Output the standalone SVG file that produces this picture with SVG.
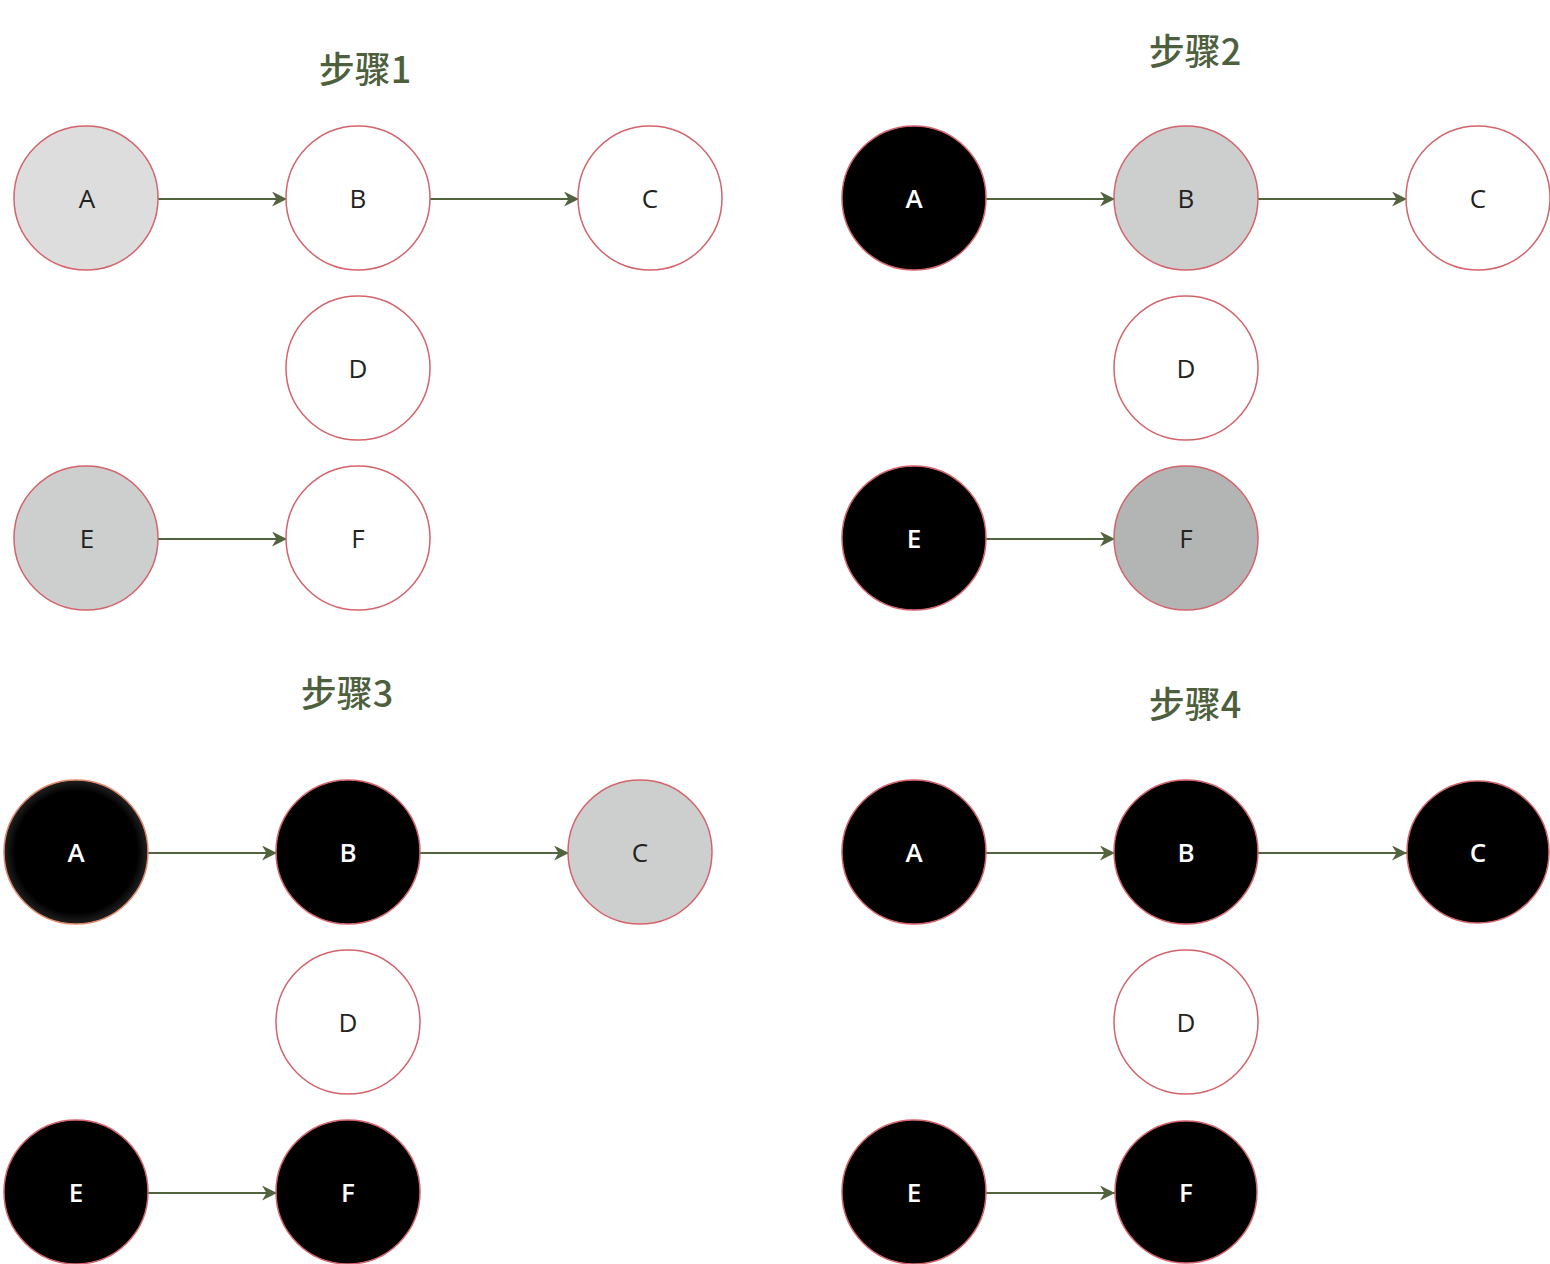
<svg xmlns="http://www.w3.org/2000/svg" width="1550" height="1264" viewBox="0 0 1550 1264">
<style>
.n{stroke:#d4636b;stroke-width:1.5}
.w{fill:#ffffff}.k{fill:#000000}.g1{fill:#dddddd}.g2{fill:#cdcfcf}.g3{fill:#b3b5b4}
.t{font-family:"Open Sans","Noto Sans",sans-serif;font-size:26px;text-anchor:middle;dominant-baseline:central}
.td{fill:#222222;font-weight:500}.tw{fill:#ffffff;font-weight:600}
.h{font-family:"Noto Sans CJK SC","Noto Sans",sans-serif;font-size:36px;font-weight:500;fill:#4e5f3e;text-anchor:middle}
.e{stroke:#51633f;stroke-width:1.8;fill:none;marker-end:url(#ar)}
</style>
<defs>
<marker id="ar" viewBox="0 0 10 10" refX="10" refY="5" markerWidth="15" markerHeight="15" markerUnits="userSpaceOnUse" orient="auto">
<path d="M0,0 L10,5 L0,10 L3,5 Z" fill="#51633f"/>
</marker>
<radialGradient id="ga" cx="0.5" cy="0.5" r="0.5"><stop offset="0.85" stop-color="#000"/><stop offset="1" stop-color="#222"/></radialGradient>
</defs>
<rect width="1550" height="1264" fill="#ffffff"/>
<g id="titles">
<text class="h" x="365" y="83">步骤1</text>
<text class="h" x="1195" y="65">步骤2</text>
<text class="h" x="347" y="707">步骤3</text>
<text class="h" x="1195" y="718">步骤4</text>
</g>
<g id="connectors">
<path class="e" d="M158,199 H287"/>
<path class="e" d="M430,199 H579"/>
<path class="e" d="M158,539 H287"/>
<path class="e" d="M986,199 H1115"/>
<path class="e" d="M1258,199 H1407"/>
<path class="e" d="M986,539 H1115"/>
<path class="e" d="M148,853 H277"/>
<path class="e" d="M420,853 H569"/>
<path class="e" d="M148,1193 H277"/>
<path class="e" d="M986,853 H1115"/>
<path class="e" d="M1258,853 H1407"/>
<path class="e" d="M986,1193 H1115"/>
</g>
<g id="s1A"><circle class="n g1" cx="86" cy="198" r="72"/><text class="t td" x="87" y="198">A</text></g>
<g id="s1B"><circle class="n w" cx="358" cy="198" r="72"/><text class="t td" x="358" y="198">B</text></g>
<g id="s1C"><circle class="n w" cx="650" cy="198" r="72"/><text class="t td" x="650" y="198">C</text></g>
<g id="s1D"><circle class="n w" cx="358" cy="368" r="72"/><text class="t td" x="358" y="368">D</text></g>
<g id="s1E"><circle class="n g2" cx="86" cy="538" r="72"/><text class="t td" x="87" y="538">E</text></g>
<g id="s1F"><circle class="n w" cx="358" cy="538" r="72"/><text class="t td" x="358" y="538">F</text></g>

<g id="s2A"><circle class="n k" cx="914" cy="198" r="72"/><text class="t tw" x="914" y="198">A</text></g>
<g id="s2B"><circle class="n g2" cx="1186" cy="198" r="72"/><text class="t td" x="1186" y="198">B</text></g>
<g id="s2C"><circle class="n w" cx="1478" cy="198" r="72"/><text class="t td" x="1478" y="198">C</text></g>
<g id="s2D"><circle class="n w" cx="1186" cy="368" r="72"/><text class="t td" x="1186" y="368">D</text></g>
<g id="s2E"><circle class="n k" cx="914" cy="538" r="72"/><text class="t tw" x="914" y="538">E</text></g>
<g id="s2F"><circle class="n g3" cx="1186" cy="538" r="72"/><text class="t td" x="1186" y="538">F</text></g>

<g id="s3A"><circle cx="76" cy="852" r="72" fill="url(#ga)" stroke="#e2896c" stroke-width="1.5"/><text class="t tw" x="76" y="852">A</text></g>
<g id="s3B"><circle class="n k" cx="348" cy="852" r="72"/><text class="t tw" x="348" y="852">B</text></g>
<g id="s3C"><circle class="n g2" cx="640" cy="852" r="72"/><text class="t td" x="640" y="852">C</text></g>
<g id="s3D"><circle class="n w" cx="348" cy="1022" r="72"/><text class="t td" x="348" y="1022">D</text></g>
<g id="s3E"><circle class="n k" cx="76" cy="1192" r="72"/><text class="t tw" x="76" y="1192">E</text></g>
<g id="s3F"><circle class="n k" cx="348" cy="1192" r="72"/><text class="t tw" x="348" y="1192">F</text></g>

<g id="s4A"><circle class="n k" cx="914" cy="852" r="72"/><text class="t tw" x="914" y="852">A</text></g>
<g id="s4B"><circle class="n k" cx="1186" cy="852" r="72"/><text class="t tw" x="1186" y="852">B</text></g>
<g id="s4C"><circle class="n k" cx="1478" cy="852" r="71"/><text class="t tw" x="1478" y="852">C</text></g>
<g id="s4D"><circle class="n w" cx="1186" cy="1022" r="72"/><text class="t td" x="1186" y="1022">D</text></g>
<g id="s4E"><circle class="n k" cx="914" cy="1192" r="72"/><text class="t tw" x="914" y="1192">E</text></g>
<g id="s4F"><circle class="n k" cx="1186" cy="1192" r="71"/><text class="t tw" x="1186" y="1192">F</text></g>
</svg>
